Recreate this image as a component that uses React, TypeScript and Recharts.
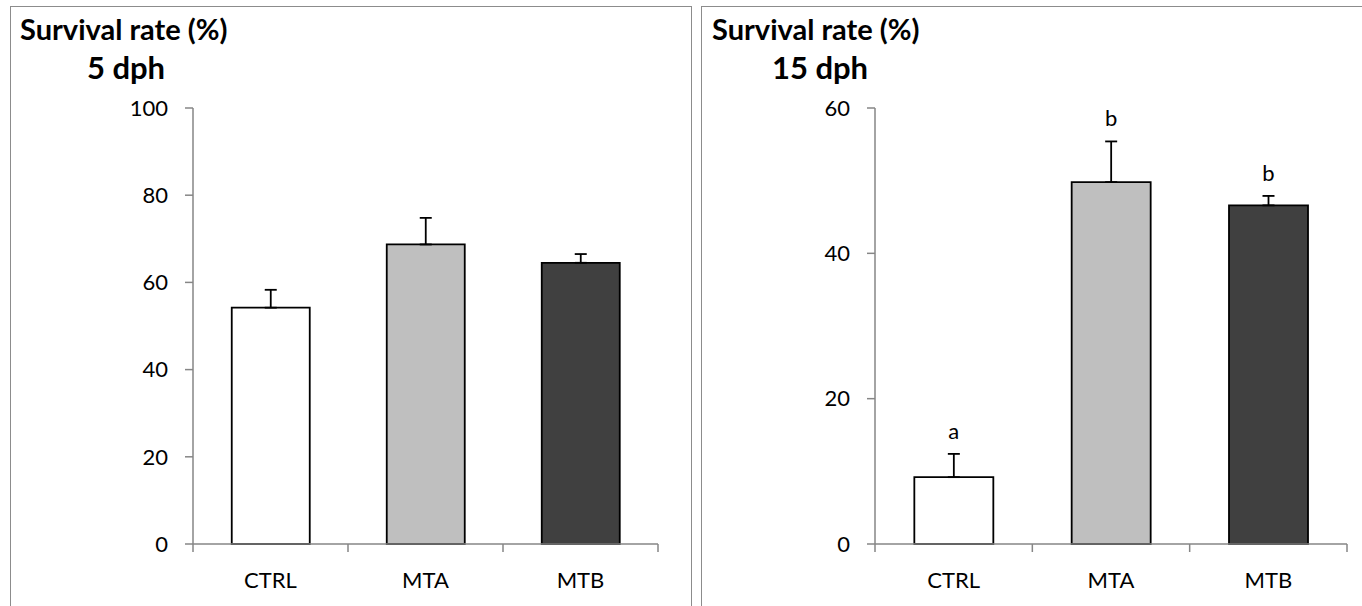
import React from "react";
import { ComposedChart, Bar, XAxis, YAxis, ErrorBar, Cell, LabelList } from "recharts";

const categories = ["CTRL", "MTA", "MTB"];
const survival5 = [54.2, 68.7, 64.5];
const err5 = [4.1, 6.1, 2.0];
const survival15 = [9.2, 49.8, 46.6];
const err15 = [3.2, 5.6, 1.3];
const letters15 = ["a", "b", "b"];
const barColors = ["#ffffff", "#bfbfbf", "#404040"];
const ticks5 = [0, 20, 40, 60, 80, 100];
const ticks15 = [0, 20, 40, 60];

const FONT = "Lato, 'Open Sans', sans-serif";
const AXIS = "#868686";
const TICK_FS = 22;
const TITLE_FS = 29;
const SUB_FS = 31;
const Y_AXIS_W = 60;

const data5 = categories.map((c, i) => ({ cat: c, v: survival5[i], e: [0, err5[i]], letter: "" }));
const data15 = categories.map((c, i) => ({ cat: c, v: survival15[i], e: [0, err15[i]], letter: letters15[i] }));

function makeCategoryTick(band: number) {
  return (props: any) => {
    const { x, y, payload, index } = props;
    const half = band / 2;
    return (
      <g>
        {index === 0 && <line x1={x - half} y1={y} x2={x - half} y2={y + 8} stroke={AXIS} strokeWidth={1.5} />}
        <line x1={x + half} y1={y} x2={x + half} y2={y + 8} stroke={AXIS} strokeWidth={1.5} />
        <text x={x} y={y + 44} textAnchor="middle" fontSize={TICK_FS} fontFamily={FONT} fill="#000">
          {payload.value}
        </text>
      </g>
    );
  };
}

function makeLetter(data: any[], errs: number[]) {
  return (props: any) => {
    const { x, y, width, height, index, value } = props;
    if (!value) return null;
    const ppu = height / data[index].v;
    const top = y - errs[index] * ppu;
    return (
      <text x={x + width / 2} y={top - 15} textAnchor="middle" fontSize={TICK_FS} fontFamily={FONT} fill="#000">
        {value}
      </text>
    );
  };
}

function Panel({ data, errs, yMax, ticks, width, height, margin }: any) {
  const plotW = width - margin.left - margin.right - Y_AXIS_W;
  const band = plotW / data.length;
  const CatTick = makeCategoryTick(band);
  return (
    <ComposedChart width={width} height={height} data={data} margin={margin} barCategoryGap="25%">
      <XAxis
        dataKey="cat"
        height={40}
        interval={0}
        axisLine={{ stroke: AXIS, strokeWidth: 1.5 }}
        tickLine={false}
        tickSize={0}
        tickMargin={0}
        tick={<CatTick />}
      />
      <YAxis
        domain={[0, yMax]}
        ticks={ticks}
        interval={0}
        width={Y_AXIS_W}
        tickSize={8}
        tickMargin={17}
        axisLine={{ stroke: AXIS, strokeWidth: 1.5 }}
        tickLine={{ stroke: AXIS, strokeWidth: 1.5 }}
        tick={{ fontSize: TICK_FS, fontFamily: FONT, fill: "#000" }}
      />
      <Bar dataKey="v" stroke="#000" strokeWidth={1.8} isAnimationActive={false}>
        {data.map((d: any, i: number) => (
          <Cell key={d.cat} fill={barColors[i]} />
        ))}
        <ErrorBar dataKey="e" direction="y" width={6} stroke="#000" strokeWidth={1.8} />
        <LabelList dataKey="letter" content={makeLetter(data, errs)} />
      </Bar>
    </ComposedChart>
  );
}

export default function App() {
  return (
    <div style={{ position: "fixed", left: 0, top: 0, width: 1362, height: 606, background: "#fff", overflow: "hidden" }}>
      <div style={{ position: "absolute", left: 10, top: 6, width: 680, height: 640, borderLeft: "1.5px solid #8c8c8c", borderTop: "1.5px solid #8c8c8c", borderRight: "1.5px solid #8c8c8c" }} />
      <div style={{ position: "absolute", left: 701, top: 6, width: 700, height: 640, borderLeft: "1.5px solid #8c8c8c", borderTop: "1.5px solid #8c8c8c" }} />
      <div style={{ position: "absolute", left: 0, top: 0 }}>
        <Panel data={data5} errs={err5} yMax={100} ticks={ticks5} width={680} height={606} margin={{ top: 108, right: 22, bottom: 22, left: 133 }} />
      </div>
      <div style={{ position: "absolute", left: 700, top: 0 }}>
        <Panel data={data15} errs={err15} yMax={60} ticks={ticks15} width={662} height={606} margin={{ top: 108, right: 15, bottom: 22, left: 115 }} />
      </div>
      <svg width={1362} height={606} style={{ position: "absolute", left: 0, top: 0, pointerEvents: "none" }}>
        <text x={20} y={40} fontSize={TITLE_FS} fontWeight="bold" fontFamily={FONT} fill="#000">Survival rate (%)</text>
        <text x={126} y={79} textAnchor="middle" fontSize={SUB_FS} fontWeight="bold" fontFamily={FONT} fill="#000">5 dph</text>
        <text x={712} y={40} fontSize={TITLE_FS} fontWeight="bold" fontFamily={FONT} fill="#000">Survival rate (%)</text>
        <text x={820} y={79} textAnchor="middle" fontSize={SUB_FS} fontWeight="bold" fontFamily={FONT} fill="#000">15 dph</text>
      </svg>
    </div>
  );
}
